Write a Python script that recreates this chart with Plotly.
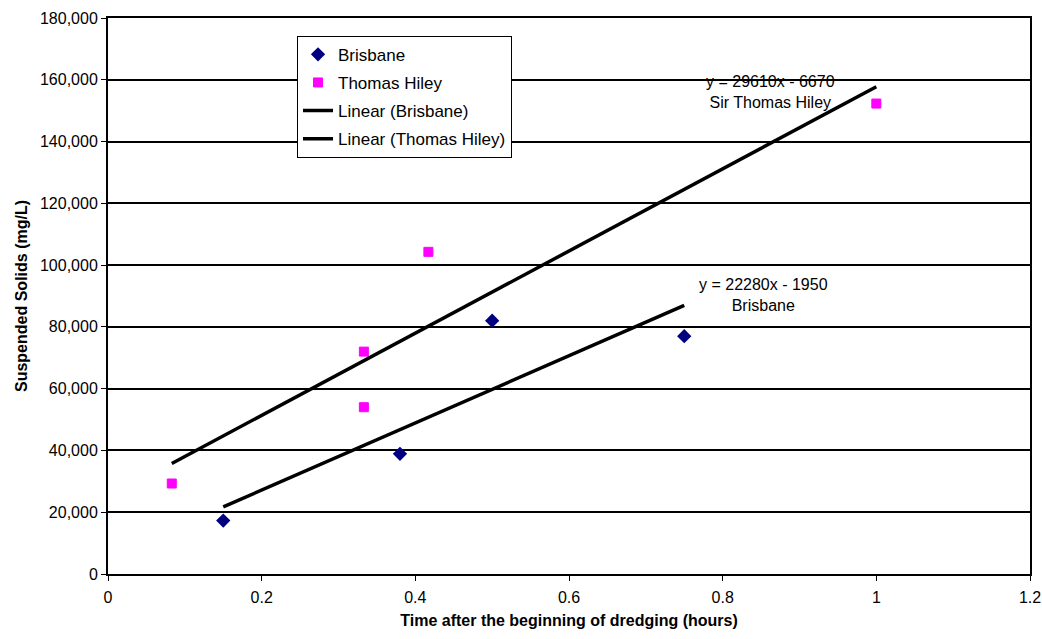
import numpy as np
import plotly.graph_objects as go

# Data
brisbane_x = [0.15, 0.38, 0.50, 0.75]
brisbane_y = [17300, 38900, 82000, 77000]
hiley_x = [0.083, 0.333, 0.333, 0.417, 1.0]
hiley_y = [29300, 54000, 72000, 104300, 152300]

x_ticks = [0, 0.2, 0.4, 0.6, 0.8, 1, 1.2]
y_ticks = list(range(0, 180001, 20000))

FONT = "Liberation Sans, Arial, sans-serif"

# Least-squares trend lines computed from the data
bm, bc = np.polyfit(brisbane_x, brisbane_y, 1)
hm, hc = np.polyfit(hiley_x, hiley_y, 1)
b_tx = [min(brisbane_x), max(brisbane_x)]
h_tx = [min(hiley_x), max(hiley_x)]

fig = go.Figure()
fig.add_trace(go.Scatter(x=brisbane_x, y=brisbane_y, mode="markers", name="Brisbane",
                         legendgroup="a",
                         marker=dict(symbol="diamond", color="#000080", size=11)))
fig.add_trace(go.Scatter(x=hiley_x, y=hiley_y, mode="markers", name="Thomas Hiley",
                         legendgroup="b",
                         marker=dict(symbol="square", color="#FF00FF", size=9,
                                     line=dict(color="#FF00FF", width=1))))
fig.add_trace(go.Scatter(x=b_tx, y=[bm * v + bc for v in b_tx], mode="lines",
                         name="Linear (Brisbane)", legendgroup="c",
                         line=dict(color="black", width=3.5)))
fig.add_trace(go.Scatter(x=h_tx, y=[hm * v + hc for v in h_tx], mode="lines",
                         name="Linear (Thomas Hiley)", legendgroup="d",
                         line=dict(color="black", width=3.5)))

fig.add_annotation(x=0.862, y=155900, xref="x", yref="y", showarrow=False,
                   text="y = 29610x - 6670<br>Sir Thomas Hiley",
                   font=dict(family=FONT, size=16, color="black"), align="center",
                   yanchor="middle")
fig.add_annotation(x=0.8525, y=90200, xref="x", yref="y", showarrow=False,
                   text="y = 22280x - 1950<br>Brisbane",
                   font=dict(family=FONT, size=16, color="black"), align="center",
                   yanchor="middle")

fig.update_layout(
    width=1042, height=639,
    margin=dict(l=108, r=12, t=18, b=65, autoexpand=False),
    paper_bgcolor="white", plot_bgcolor="white",
    font=dict(family=FONT, size=16, color="black"),
    showlegend=True,
    legend=dict(x=0.205, y=0.968, xanchor="left", yanchor="top",
                bgcolor="white", bordercolor="black", borderwidth=1,
                font=dict(family=FONT, size=17), tracegroupgap=3),
    xaxis=dict(range=[0, 1.2], tickvals=x_ticks, ticktext=[str(v) for v in x_ticks],
               showgrid=False, zeroline=False, showline=True, linecolor="black",
               linewidth=2, mirror=True, ticks="outside", ticklen=5, tickcolor="black",
               tickfont=dict(size=16), automargin=False, ticklabelstandoff=3,
               title=dict(text="<b>Time after the beginning of dredging (hours)</b>",
                          font=dict(size=16), standoff=10)),
    yaxis=dict(range=[0, 180000], tickvals=y_ticks, tickformat=",",
               showgrid=True, gridcolor="black", gridwidth=1.5, zeroline=False,
               showline=True, linecolor="black", linewidth=2, mirror=True,
               ticks="outside", ticklen=5, tickcolor="black", tickfont=dict(size=16),
               automargin=False,
               title=dict(text="<b>Suspended Solids (mg/L)</b>", font=dict(size=16),
                          standoff=8)),
)

fig.write_html(
    "out.html",
    config={"displayModeBar": False},
    post_script="document.body.style.margin='0';document.body.style.overflow='hidden';",
)
